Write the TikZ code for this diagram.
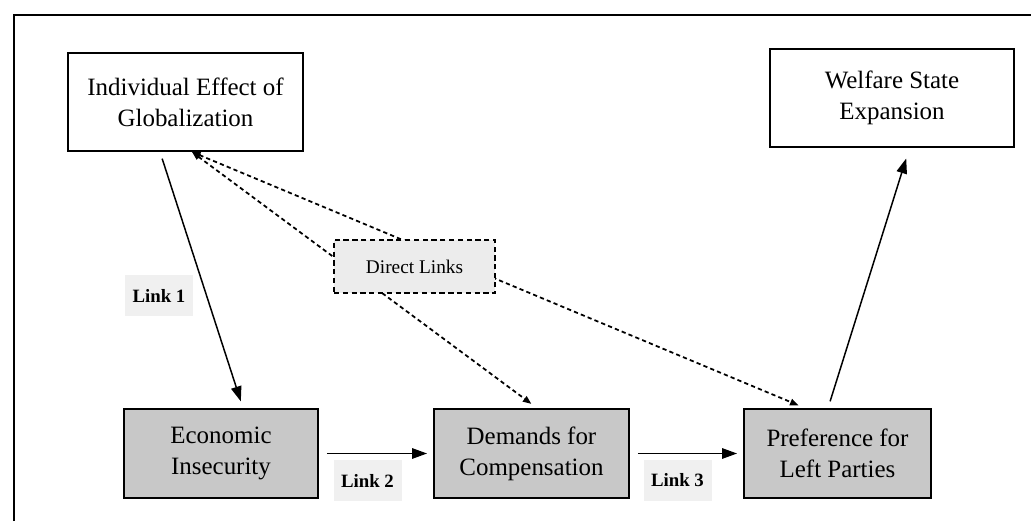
\documentclass[tikz,border=0pt]{standalone}
\usepackage{fontspec}
\setmainfont{Liberation Serif}
\usepackage{xcolor}
\usetikzlibrary{arrows.meta}

\definecolor{boxgray}{RGB}{200,200,200}
\definecolor{linkgray}{RGB}{240,240,240}
\definecolor{dirgray}{RGB}{236,236,236}

\tikzset{
  bigbox/.style={draw, line width=1.1pt, align=center, inner sep=0pt,
    font=\fontsize{14.2}{17.5}\selectfont},
  linklabel/.style={fill=linkgray, inner sep=0pt, minimum width=1.36cm,
    minimum height=0.82cm, font=\fontsize{10.7}{13}\selectfont\bfseries},
  solidarr/.style={line width=0.85pt, -{Triangle[length=0.3cm,width=0.21cm]}},
  dasharr/.style={line width=1pt, dash pattern=on 2.4pt off 1.8pt,
    {Triangle[length=0.17cm,width=0.13cm]}-{Triangle[length=0.17cm,width=0.13cm]}}
}

\begin{document}
\begin{tikzpicture}
\useasboundingbox (0,0) rectangle (20.62,10.42);

% frame
\draw [line width=1.7pt] (0.28,0) -- (0.28,10.12) -- (20.62,10.12);

\node (ind) at (3.71,8.38) [bigbox, minimum width=4.7cm, minimum height=1.96cm] {Individual Effect of\\Globalization};
\node (wel) at (17.84,8.46) [bigbox, minimum width=4.88cm, minimum height=1.96cm] {Welfare State\\Expansion};

\node (eco) at (4.42,1.35) [bigbox, fill=boxgray, minimum width=3.88cm, minimum height=1.78cm] {Economic\\Insecurity};
\node (dem) at (10.63,1.35) [bigbox, fill=boxgray, minimum width=3.9cm, minimum height=1.78cm] {Demands for\\Compensation};
\node (pre) at (16.75,1.35) [bigbox, fill=boxgray, minimum width=3.74cm, minimum height=1.78cm] {Preference for\\Left Parties};

\node (link1) at (3.18,4.5) [linklabel] {Link 1};
\node (link2) at (7.35,0.81) [linklabel] {Link 2};
\node (link3) at (13.55,0.81) [linklabel] {Link 3};

% causal chain
\draw [solidarr, shorten <=0.14cm, shorten >=0.14cm] ([xshift=-0.51cm]ind.south) -- ([xshift=0.44cm]eco.north);
\draw [solidarr, shorten <=0.16cm, shorten >=0.12cm] (eco.east) -- (dem.west);
\draw [solidarr, shorten <=0.16cm, shorten >=0.12cm] (dem.east) -- (pre.west);
\draw [solidarr, shorten <=0.14cm, shorten >=0.22cm] ([xshift=-0.19cm]pre.north) -- ([xshift=0.35cm]wel.south);

% direct links
\coordinate (dtop) at ([xshift=0.13cm]ind.south);
\draw [dasharr, shorten >=0.14cm] (dtop) -- ([xshift=0.11cm]dem.north);
\draw [dasharr, shorten >=0.14cm] (dtop) -- ([xshift=-0.65cm]pre.north);

\node (dir) at (8.29,5.09) [draw, line width=1pt, dash pattern=on 3pt off 2pt, fill=dirgray,
  minimum width=3.22cm, minimum height=1.06cm, inner sep=0pt,
  font=\fontsize{11}{13}\selectfont] {Direct Links};
\end{tikzpicture}
\end{document}
